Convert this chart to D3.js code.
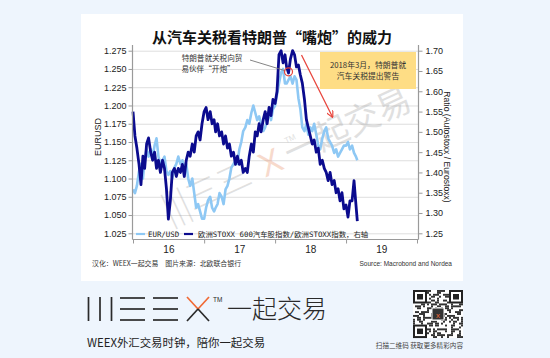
<!DOCTYPE html>
<html><head><meta charset="utf-8">
<script src="https://cdn.jsdelivr.net/npm/d3@7"></script>
<style>html,body{margin:0;padding:0;background:#eef5fd;}svg{display:block;}</style>
</head><body>
<svg id="c" width="550" height="358"></svg>
<script>
// ---- data ----
const dates = [
"2016-01-01","2016-01-11","2016-01-21","2016-02-01","2016-02-11","2016-02-21","2016-03-01","2016-03-11","2016-03-21",
"2016-04-01","2016-04-11","2016-04-21","2016-05-01","2016-05-11","2016-05-21","2016-06-01","2016-06-11","2016-06-21",
"2016-07-01","2016-07-11","2016-07-21","2016-08-01","2016-08-11","2016-08-21","2016-09-01","2016-09-11","2016-09-21",
"2016-10-01","2016-10-11","2016-10-21","2016-11-01","2016-11-11","2016-11-21","2016-12-01","2016-12-11","2016-12-21",
"2017-01-01","2017-01-11","2017-01-21","2017-02-01","2017-02-11","2017-02-21","2017-03-01","2017-03-11","2017-03-21",
"2017-04-01","2017-04-11","2017-04-21","2017-05-01","2017-05-11","2017-05-21","2017-06-01","2017-06-11","2017-06-21",
"2017-07-01","2017-07-11","2017-07-21","2017-08-01","2017-08-11","2017-08-21","2017-09-01","2017-09-11","2017-09-21",
"2017-10-01","2017-10-11","2017-10-21","2017-11-01","2017-11-11","2017-11-21","2017-12-01","2017-12-11","2017-12-21",
"2018-01-01","2018-01-11","2018-01-21","2018-02-01","2018-02-11","2018-02-21","2018-03-01","2018-03-11","2018-03-21",
"2018-04-01","2018-04-11","2018-04-21","2018-05-01","2018-05-11","2018-05-21","2018-06-01","2018-06-11","2018-06-21",
"2018-07-01","2018-07-11","2018-07-21","2018-08-01","2018-08-11","2018-08-21","2018-09-01","2018-09-11","2018-09-21",
"2018-10-01","2018-10-11","2018-10-21","2018-11-01","2018-11-11","2018-11-21","2018-12-01","2018-12-11","2018-12-21",
"2019-01-01","2019-01-11","2019-01-21","2019-02-01","2019-02-11","2019-02-21","2019-02-28"];

const eurusd = [
1.085,1.080,1.090, 1.110,1.120,1.100, 1.125,1.140,1.130, 1.140,1.130,1.145, 1.155,1.130,1.120, 1.125,1.130,1.110,
1.105,1.110,1.100, 1.115,1.120,1.130, 1.120,1.125,1.115, 1.120,1.100,1.090, 1.100,1.080,1.060, 1.065,1.055,1.045,
1.045,1.060,1.070, 1.075,1.060,1.055, 1.060,1.065,1.080, 1.075,1.065,1.085, 1.090,1.100,1.115, 1.120,1.125,1.120,
1.140,1.150,1.165, 1.170,1.180,1.175, 1.190,1.200,1.190, 1.180,1.185,1.175, 1.165,1.170,1.180, 1.190,1.180,1.195,
1.200,1.215,1.230, 1.245,1.250,1.230, 1.230,1.235,1.240, 1.230,1.240,1.235, 1.210,1.195,1.170, 1.165,1.175,1.160,
1.170,1.165,1.175, 1.160,1.145,1.140, 1.155,1.165,1.170, 1.155,1.150,1.145, 1.135,1.140,1.130, 1.135,1.140,1.145,
1.145,1.150,1.140, 1.145,1.135,1.130, 1.125];

const autoRatio = [
1.55,1.49,1.46, 1.42,1.37,1.44, 1.41,1.47,1.485, 1.45,1.43,1.45, 1.41,1.43,1.40, 1.43,1.41,1.36,
1.285,1.33,1.40, 1.41,1.39,1.41, 1.40,1.42,1.39, 1.43,1.45,1.44, 1.47,1.45,1.49, 1.50,1.48,1.52,
1.55,1.56,1.53, 1.55,1.52,1.53, 1.50,1.52,1.49, 1.50,1.47,1.49, 1.46,1.47,1.44, 1.45,1.42,1.44,
1.42,1.43,1.40, 1.41,1.40,1.44, 1.47,1.45,1.50, 1.49,1.52,1.50, 1.53,1.55,1.52, 1.56,1.54,1.58,
1.57,1.60,1.69, 1.70,1.67,1.69, 1.66,1.645,1.68, 1.70,1.69,1.66, 1.665,1.64,1.62, 1.58,1.53,1.51,
1.49,1.47,1.48, 1.45,1.46,1.42, 1.43,1.41,1.40, 1.38,1.40,1.37, 1.38,1.35,1.36, 1.33,1.35,1.31,
1.32,1.29,1.33, 1.33,1.38,1.32, 1.28];

const leftTicks = [1.025,1.050,1.075,1.100,1.125,1.150,1.175,1.200,1.225,1.250,1.275];
const rightTicks = [1.25,1.30,1.35,1.40,1.45,1.50,1.55,1.60,1.65,1.70];
const yearBounds = ["2016-01-01","2017-01-01","2018-01-01","2019-01-01","2020-01-01"];
const yearLabels = [{d:"2016-07-01",t:"16"},{d:"2017-07-01",t:"17"},{d:"2018-07-01",t:"18"},{d:"2019-07-01",t:"19"}];
const markDate = "2018-03-11";

// ---- drawing ----
const parse = d3.timeParse("%Y-%m-%d");
const svg = d3.select("#c");
const cjk = "'Noto Sans CJK SC','Noto Sans',sans-serif";
const latin = "'Liberation Sans',Arial,sans-serif";

svg.append("rect").attr("width",550).attr("height",358).attr("fill","#eef5fd");
svg.append("rect").attr("x",81).attr("y",14).attr("width",382).attr("height",267).attr("fill","#fff");

svg.append("text").attr("x",272).attr("y",43).attr("text-anchor","middle")
  .attr("font-family",cjk).attr("font-weight","bold").attr("font-size",15).attr("fill","#111")
  .text("从汽车关税看特朗普“嘴炮”的威力");

const L=132.5, R=418.5, T=45, B=239.5;
const x = d3.scaleTime().domain([parse("2016-01-01"),parse("2020-01-01")]).range([L+0.5,R-1.5]);
const yL = d3.scaleLinear().domain([1.025,1.275]).range([233.3,50.7]);
const yR = d3.scaleLinear().domain([1.25,1.70]).range([233.3,50.7]);

// grid
const grid = svg.append("g").attr("transform",`translate(${L},0)`)
  .call(d3.axisLeft(yL).tickValues(leftTicks).tickSize(-(R-L)).tickFormat(""));
grid.select(".domain").remove();
grid.selectAll("line").attr("stroke","#dedede").attr("stroke-width",1);

// watermark
const wm = svg.append("g").attr("transform","translate(262,168) rotate(-25)").attr("opacity",0.3);
wm.append("text").attr("x",-60).attr("y",10).attr("text-anchor","middle").attr("font-family",cjk)
  .attr("font-size",34).attr("fill","#9a9a9a").attr("font-weight","300").text("|||三三");
wm.append("text").attr("x",10).attr("y",10).attr("text-anchor","middle").attr("font-family",latin)
  .attr("font-size",34).attr("fill","#e8865a").text("X");
wm.append("text").attr("x",32).attr("y",-12).attr("font-family",latin)
  .attr("font-size",8).attr("fill","#9a9a9a").text("TM");
wm.append("text").attr("x",95).attr("y",10).attr("text-anchor","middle").attr("font-family",cjk)
  .attr("font-size",34).attr("fill","#9a9a9a").text("一起交易");

// lines
const series = dates.map((d,i)=>({d:parse(d), e:eurusd[i], r:autoRatio[i]}));
svg.append("path").datum(series).attr("fill","none").attr("stroke","#8ec8f4").attr("stroke-width",2.6)
  .attr("stroke-linejoin","round")
  .attr("d",d3.line().x(s=>x(s.d)).y(s=>yL(s.e)));
svg.append("path").datum(series).attr("fill","none").attr("stroke","#0b0b8e").attr("stroke-width",2.8)
  .attr("stroke-linejoin","round")
  .attr("d",d3.line().x(s=>x(s.d)).y(s=>yR(s.r)));

// axes
const axStyle = g=>{
  g.select(".domain").attr("stroke","#9a9a9a").attr("stroke-width",1.2);
  g.selectAll(".tick line").attr("stroke","#9a9a9a");
  g.selectAll("text").attr("font-family",latin).attr("font-size",9).attr("fill","#222");
};
svg.append("g").attr("transform",`translate(${L},0)`)
  .call(d3.axisLeft(yL).tickValues(leftTicks).tickFormat(d3.format(".3f")).tickSize(4).tickSizeOuter(0).tickPadding(2))
  .call(axStyle).select(".domain").attr("d",`M0,${T}V${B}`);
svg.append("g").attr("transform",`translate(${R},0)`)
  .call(d3.axisRight(yR).tickValues(rightTicks).tickFormat(d3.format(".2f")).tickSize(4).tickSizeOuter(0).tickPadding(3))
  .call(axStyle).select(".domain").attr("d",`M0,${T}V${B}`);
svg.append("g").attr("transform",`translate(0,${B})`)
  .call(d3.axisBottom(x).tickValues(yearBounds.map(parse)).tickFormat("").tickSize(4).tickSizeOuter(0))
  .call(axStyle).select(".domain").attr("d",`M${L},0H${R}`);
const xl = svg.append("g").attr("transform",`translate(0,${B})`)
  .call(d3.axisBottom(x).tickValues(yearLabels.map(o=>parse(o.d))).tickFormat((d,i)=>yearLabels[i].t).tickSize(0).tickPadding(6))
  .call(axStyle);
xl.select(".domain").remove();
xl.selectAll("text").attr("font-size",10);

svg.append("text").attr("transform","translate(101,137) rotate(-90)").attr("text-anchor","middle")
  .attr("font-family",latin).attr("font-size",9).attr("fill","#222").text("EURUSD");
svg.append("text").attr("transform","translate(444,147) rotate(90)").attr("text-anchor","middle")
  .attr("font-family",latin).attr("font-size",8.6).attr("fill","#222").text("Ratio (Autostoxx / Eurostoxx)");

// legend
const lg = svg.append("g").attr("font-family","'DejaVu Sans Mono','Noto Sans CJK SC',monospace").attr("font-size",7.4).attr("fill","#222");
lg.append("line").attr("x1",136).attr("x2",145).attr("y1",234).attr("y2",234).attr("stroke","#8ec8f4").attr("stroke-width",2.2);
lg.append("text").attr("x",148).attr("y",236.6).text("EUR/USD");
lg.append("line").attr("x1",184).attr("x2",193).attr("y1",234).attr("y2",234).attr("stroke","#0b0b8e").attr("stroke-width",2.2);
lg.append("text").attr("x",198).attr("y",236.6).text("欧洲STOXX 600汽车股指数/欧洲STOXX指数，右轴");

// annotation 1
const mx = x(parse(markDate)), my = yR(1.648);
svg.append("line").attr("x1",250).attr("y1",60).attr("x2",mx-3).attr("y2",my-1).attr("stroke","#777").attr("stroke-width",0.9);
svg.append("circle").attr("cx",mx).attr("cy",my).attr("r",4).attr("fill","none").attr("stroke","#e8433a").attr("stroke-width",1.2);
const a1 = svg.append("g").attr("font-family",cjk).attr("font-size",7.6).attr("fill","#333").attr("text-anchor","middle");
a1.append("text").attr("x",212).attr("y",60.5).text("特朗普就关税向贸");
a1.append("text").attr("x",208).attr("y",71.5).text("易伙伴“开炮”");

// annotation box
svg.append("rect").attr("x",320).attr("y",52).attr("width",96).attr("height",37).attr("fill","#fedd85");
const a2 = svg.append("g").attr("font-family",cjk).attr("font-size",7.8).attr("fill","#333").attr("text-anchor","middle");
a2.append("text").attr("x",368).attr("y",68).attr("font-size",7.8).text("2018年3月，特朗普就");
a2.append("text").attr("x",368).attr("y",79).text("汽车关税提出警告");

// red arrow
const defs = svg.append("defs");
defs.append("marker").attr("id","ah").attr("viewBox","0 0 10 10").attr("refX",9).attr("refY",5)
  .attr("markerWidth",6).attr("markerHeight",6).attr("orient","auto")
  .append("path").attr("d","M0,0L10,5L0,10").attr("fill","none").attr("stroke","#e8433a").attr("stroke-width",1.6);
svg.append("line").attr("x1",301.5).attr("y1",55).attr("x2",332.5).attr("y2",117)
  .attr("stroke","#e8433a").attr("stroke-width",1.2).attr("marker-end","url(#ah)");

// footnotes in card
svg.append("text").attr("x",92).attr("y",265.5).attr("font-family",cjk).attr("font-size",6.9).attr("fill","#333")
  .text("汉化：WEEX一起交易　图片来源：北欧联合银行");
svg.append("text").attr("x",452).attr("y",265.5).attr("text-anchor","end").attr("font-family",latin).attr("font-size",6.5).attr("fill","#333")
  .text("Source: Macrobond and Nordea");

// logo
const lo = svg.append("g").attr("stroke","#2a2a2a").attr("stroke-width",1.7).attr("fill","none");
[88.5,100,111.5].forEach(v=>lo.append("line").attr("x1",v).attr("x2",v).attr("y1",297).attr("y2",321));
[[120,145],[153,178]].forEach(([a,b])=>[298,309,320].forEach(v=>lo.append("line").attr("x1",a).attr("x2",b).attr("y1",v).attr("y2",v)));
lo.append("line").attr("x1",187).attr("y1",297).attr("x2",198).attr("y2",309).attr("stroke","#f06a35");
lo.append("line").attr("x1",209).attr("y1",297).attr("x2",198).attr("y2",309).attr("stroke","#f06a35");
lo.append("line").attr("x1",198).attr("y1",309).attr("x2",187).attr("y2",321);
lo.append("line").attr("x1",198).attr("y1",309).attr("x2",209).attr("y2",321);
svg.append("text").attr("x",213).attr("y",302).attr("font-family",latin).attr("font-size",6.5).attr("fill","#2a2a2a").text("TM");
svg.append("text").attr("x",227).attr("y",318).attr("font-family",cjk).attr("font-size",25).attr("font-weight","300").attr("fill","#2a2a2a").text("一起交易");
svg.append("text").attr("x",87).attr("y",347).attr("font-family",cjk).attr("font-size",11.4).attr("fill","#222").text("WEEX外汇交易时钟，陪你一起交易");

// QR-like badge (decorative)
const qr = svg.append("g").attr("transform","translate(413,290)");
qr.append("rect").attr("width",50).attr("height",48).attr("fill","#fff");
const seed = "WEEX一起交易外汇交易时钟陪你一起交易扫描二维码获取更多精彩内容";
const n=25, cs=2;
for(let r=0;r<n;r++)for(let c=0;c<n;c++){
  const inF=(r<7&&c<7)||(r<7&&c>=n-7)||(r>=n-7&&c<7);
  if(inF) continue;
  const code = seed.charCodeAt((r*7+c*3)%seed.length);
  if(((code>>((r+c)%8))^(r*c))&1) qr.append("rect").attr("x",c*cs).attr("y",r*cs*0.96).attr("width",cs).attr("height",cs*0.96).attr("fill","#333");
}
[[0,0],[0,n-7],[n-7,0]].forEach(([r,c])=>{
  qr.append("rect").attr("x",c*cs+1).attr("y",r*cs*0.96+1).attr("width",12).attr("height",11.5).attr("fill","none").attr("stroke","#222").attr("stroke-width",2);
  qr.append("rect").attr("x",c*cs+4).attr("y",r*cs*0.96+4).attr("width",6).attr("height",5.5).attr("fill","#222");
});
qr.append("rect").attr("x",19).attr("y",18).attr("width",12).attr("height",12).attr("fill","#333").attr("stroke","#fff").attr("stroke-width",1);
qr.append("text").attr("x",25).attr("y",27.5).attr("text-anchor","middle").attr("font-size",8).attr("font-family",latin).attr("fill","#f06a35").text("x");
svg.append("text").attr("x",463).attr("y",347.5).attr("text-anchor","end").attr("font-family",cjk).attr("font-size",6.6).attr("fill","#444")
  .text("扫描二维码 获取更多精彩内容");
</script>
</body></html>
